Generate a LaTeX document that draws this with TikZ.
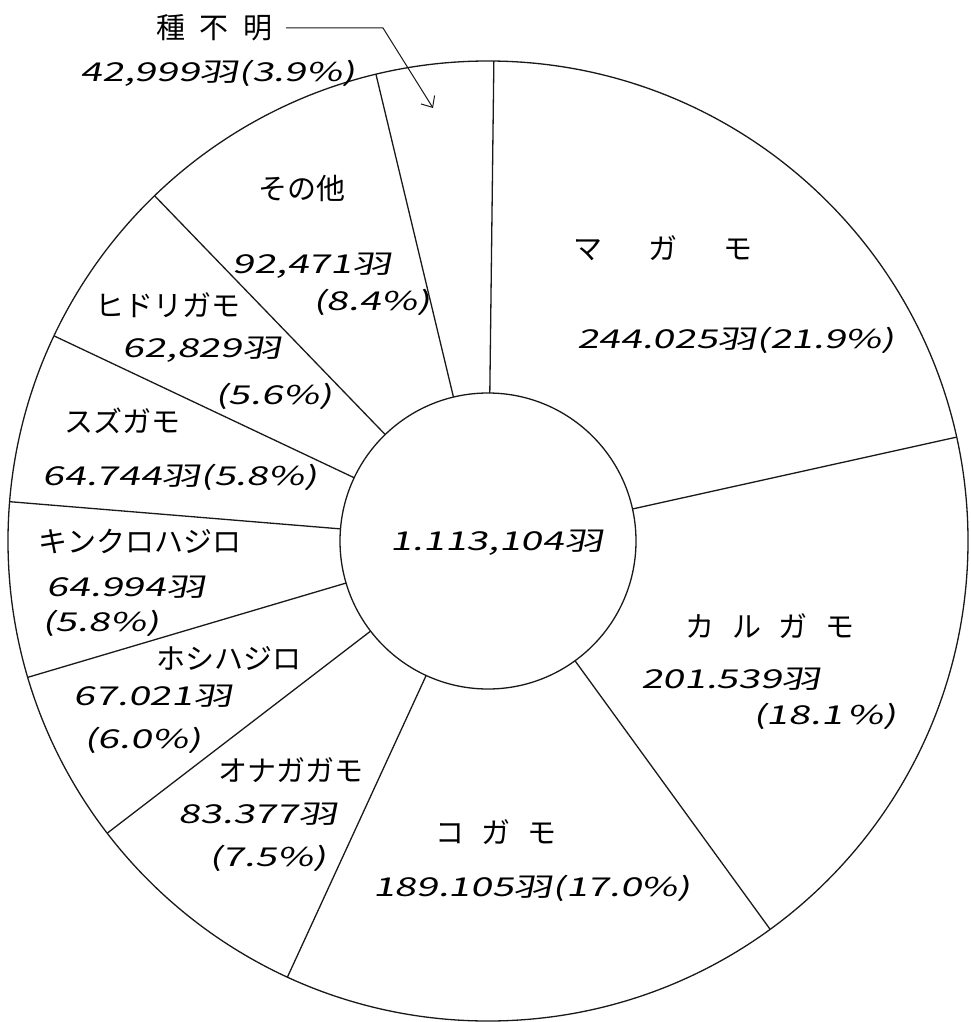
\documentclass[tikz,border=0pt]{standalone}
\usepackage{fontspec}
\usetikzlibrary{arrows.meta}
\newfontfamily\kana{Noto Sans CJK JP}
\newfontfamily\hand{Noto Sans CJK JP}[FakeStretch=1.5,FakeSlant=0.2]

\begin{document}
\begin{tikzpicture}[x=1pt,y=-1pt]

\tikzstyle{every node}=[inner sep=0pt]
\tikzstyle{birdlbl}=[font=\kana\fontsize{29}{29}\selectfont]
\tikzstyle{countlbl}=[font=\hand\fontsize{26}{26}\selectfont]
\tikzstyle{rim}=[line width=1.3pt, black!90]

\useasboundingbox[fill=white] (0,0) rectangle (971,1022);

\coordinate (c) at (488,541);

% rings
\draw[rim] (c) circle [radius=480pt];
\draw[rim] (c) circle [radius=148pt];

% dividers
\foreach \a in {12.5,89.3,103.5,134,154.7,175.3,196.5,217.5,245.3,306}
  \draw[rim, shift={(c)}] (-\a:148) -- (-\a:480);

% total
\node[countlbl] (tot) at (497,543) {1.113,104羽};

% unknown
\node[birdlbl] (unk) at (214,28) {種\hspace{.5em}不\hspace{.5em}明};
\node[countlbl] (unkn) at (218,73) {42,999羽(3.9\%)};
\coordinate (bend) at (383,28);
\coordinate (tip) at (433,108);
\draw[rim, line width=1pt, -{Straight Barb[length=9pt,width=16pt]}] (unk.east) ++(14,0) -- (bend) -- (tip);

% mallard
\node[birdlbl] (mag) at (663,248) {マ\hspace{1.6em}ガ\hspace{1.6em}モ};
\node[countlbl] (magn) at (736,340) {244.025羽(21.9\%)};

% spot-billed
\node[birdlbl] (kar) at (770,626) {カ\hspace{.6em}ル\hspace{.6em}ガ\hspace{.6em}モ};
\node[countlbl] (karn) at (731,679) {201.539羽};
\node[countlbl] (karp) at (825,716) {(18.1\,\%)};

% teal
\node[birdlbl] (kog) at (496,832) {コ\hspace{.6em}ガ\hspace{.6em}モ};
\node[countlbl] (kogn) at (532,888) {189.105羽(17.0\%)};

% pintail
\node[birdlbl] (ona) at (291,770) {オナガガモ};
\node[countlbl] (onan) at (258,814) {83.377羽};
\node[countlbl] (onap) at (268,858) {(7.5\%)};

% pochard
\node[birdlbl] (hos) at (229,658) {ホシハジロ};
\node[countlbl] (hosn) at (153,696) {67.021羽};
\node[countlbl] (hosp) at (143,740) {(6.0\%)};

% tufted
\node[birdlbl] (kin) at (140,541) {キンクロハジロ};
\node[countlbl] (kinn) at (126,587) {64.994羽};
\node[countlbl] (kinp) at (101,623) {(5.8\%)};

% scaup
\node[birdlbl] (suz) at (122,421) {スズガモ};
\node[countlbl] (suzn) at (180,477) {64.744羽(5.8\%)};

% wigeon
\node[birdlbl] (hid) at (168,305) {ヒドリガモ};
\node[countlbl] (hidn) at (202,350) {62,829羽};
\node[countlbl] (hidp) at (274,396) {(5.6\%)};

% others
\node[birdlbl] (oth) at (302,188) {その他};
\node[countlbl] (othn) at (312,266) {92,471羽};
\node[countlbl] (othp) at (372,302) {(8.4\%)};

\end{tikzpicture}
\end{document}
